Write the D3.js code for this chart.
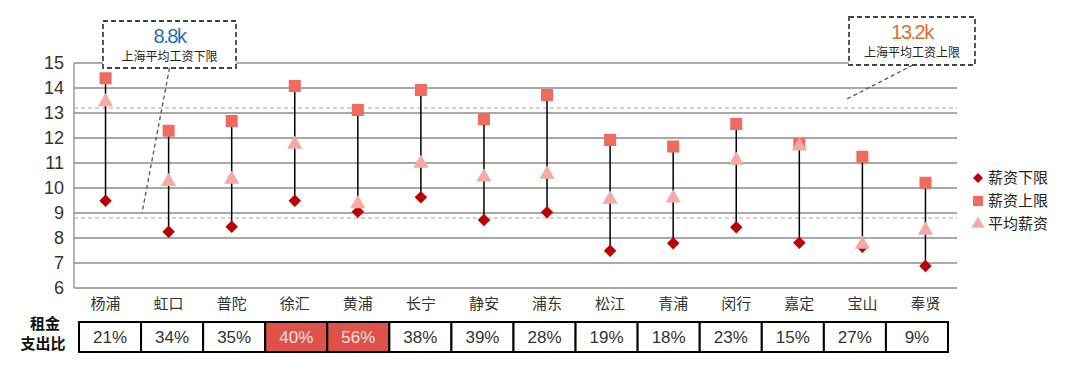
<!DOCTYPE html>
<html>
<head>
<meta charset="utf-8">
<script src="https://cdn.jsdelivr.net/npm/d3@7"></script>
<style>
  body { margin: 0; background: #fff; }
  text { font-family: "Noto Sans CJK SC", "Liberation Sans", sans-serif; }
</style>
</head>
<body>
<div id="chart"></div>
<script>
// data (unit: k RMB)
let districts = ["杨浦", "虹口", "普陀", "徐汇", "黄浦", "长宁", "静安", "浦东", "松江", "青浦", "闵行", "嘉定", "宝山", "奉贤"];
let salary_low = [9.49, 8.25, 8.45, 9.49, 9.05, 9.63, 8.72, 9.03, 7.49, 7.79, 8.43, 7.81, 7.65, 6.88];
let salary_high = [14.39, 12.29, 12.68, 14.08, 13.12, 13.92, 12.76, 13.72, 11.92, 11.66, 12.56, 11.76, 11.25, 10.21];
let salary_avg = [13.49, 10.3, 10.39, 11.79, 9.41, 11.03, 10.48, 10.59, 9.59, 9.64, 11.15, 11.72, 7.79, 8.35];
let rent_ratio = [21, 34, 35, 40, 56, 38, 39, 28, 19, 18, 23, 15, 27, 9];
let highlight_ratio = [40, 56];
let y_ticks = [6, 7, 8, 9, 10, 11, 12, 13, 14, 15];
let ref_low = 8.8, ref_high = 13.2;
let legend_names = ["薪资下限", "薪资上限", "平均薪资"];

let width = 1072, height = 376;
let plot = {left: 74, right: 957, top: 63, bottom: 288};

let svg = d3.select("#chart").append("svg")
    .attr("width", width)
    .attr("height", height);

let x = d3.scaleBand()
    .domain(districts)
    .range([plot.left, plot.right]);

let y = d3.scaleLinear()
    .domain([6, 15])
    .range([plot.bottom, plot.top]);

// gridlines
svg.append("g").selectAll("line")
    .data(y_ticks)
    .join("line")
    .attr("x1", plot.left).attr("x2", plot.right)
    .attr("y1", d => y(d)).attr("y2", d => y(d))
    .attr("stroke", "#8c8c8c")
    .attr("stroke-width", 1.3);

svg.append("line")
    .attr("x1", plot.left).attr("x2", plot.left)
    .attr("y1", y(15)).attr("y2", y(6))
    .attr("stroke", "#8c8c8c")
    .attr("stroke-width", 1.3);

// reference lines (dashed)
svg.append("g").selectAll("line")
    .data([ref_low, ref_high])
    .join("line")
    .attr("x1", plot.left).attr("x2", plot.right)
    .attr("y1", d => y(d)).attr("y2", d => y(d))
    .attr("stroke", "#a6a6a6")
    .attr("stroke-width", 1)
    .attr("stroke-dasharray", "4,3");

// y axis labels
let yAxis = svg.append("g")
    .attr("transform", "translate(" + plot.left + ",0)")
    .call(d3.axisLeft(y).tickValues(y_ticks).tickSize(0).tickPadding(10));
yAxis.select(".domain").remove();
yAxis.selectAll("text")
    .attr("font-size", 18)
    .attr("fill", "#333")
    .style("font-family", "'Liberation Sans', sans-serif");

// category labels
let xAxis = svg.append("g")
    .attr("transform", "translate(0," + plot.bottom + ")")
    .call(d3.axisBottom(x).tickSize(0).tickPadding(10));
xAxis.select(".domain").remove();
xAxis.selectAll("text")
    .attr("font-size", 15)
    .attr("fill", "#333");

let rows = districts.map((d, i) => ({name: d, low: salary_low[i], high: salary_high[i], avg: salary_avg[i]}));
let cx = d => x(d.name) + x.bandwidth() / 2;

// vertical range lines
svg.append("g").selectAll("line")
    .data(rows)
    .join("line")
    .attr("x1", cx).attr("x2", cx)
    .attr("y1", d => y(d.high)).attr("y2", d => y(d.low))
    .attr("stroke", "#000")
    .attr("stroke-width", 1.5);

let diamond = d3.symbol().type(d3.symbolSquare).size(78);
let square = d3.symbol().type(d3.symbolSquare).size(144);
let triangle = d3.symbol().type(d3.symbolTriangle).size(100);

let c_low = "#c00000", c_high = "#ee6b5e", c_avg = "#f5aaa4";

svg.append("g").selectAll("path")
    .data(rows)
    .join("path")
    .attr("d", diamond)
    .attr("fill", c_low)
    .attr("transform", d => "translate(" + cx(d) + "," + y(d.low) + ") rotate(45)");

svg.append("g").selectAll("path")
    .data(rows)
    .join("path")
    .attr("d", square)
    .attr("fill", c_high)
    .attr("transform", d => "translate(" + cx(d) + "," + y(d.high) + ")");

svg.append("g").selectAll("path")
    .data(rows)
    .join("path")
    .attr("d", triangle)
    .attr("fill", c_avg)
    .attr("transform", d => "translate(" + cx(d) + "," + (y(d.avg) + 1) + ")");

// legend
let legend = svg.append("g").attr("transform", "translate(978,178)");
let legend_syms = [
    {sym: d3.symbol().type(d3.symbolSquare).size(50), fill: c_low, rot: 45},
    {sym: d3.symbol().type(d3.symbolSquare).size(100), fill: c_high, rot: 0},
    {sym: d3.symbol().type(d3.symbolTriangle).size(75), fill: c_avg, rot: 0}
];
legend.selectAll("path")
    .data(legend_syms)
    .join("path")
    .attr("d", d => d.sym())
    .attr("fill", d => d.fill)
    .attr("transform", (d, i) => "translate(0," + (i * 23) + ") rotate(" + d.rot + ")");
legend.selectAll("text")
    .data(legend_names)
    .join("text")
    .attr("x", 10)
    .attr("y", (d, i) => i * 23)
    .attr("dy", "0.35em")
    .attr("font-size", 15)
    .attr("fill", "#222")
    .text(d => d);

// rent ratio table
let tx = d3.scaleBand()
    .domain(districts)
    .range([79, 948]);
let table_top = 322, table_h = 30;

let cells = svg.append("g").selectAll("g")
    .data(districts.map((d, i) => ({name: d, ratio: rent_ratio[i]})))
    .join("g")
    .attr("transform", d => "translate(" + tx(d.name) + "," + table_top + ")");
cells.append("rect")
    .attr("width", tx.bandwidth())
    .attr("height", table_h)
    .attr("fill", d => highlight_ratio.includes(d.ratio) ? "#de5249" : "#fff")
    .attr("stroke", "#000")
    .attr("stroke-width", 2);
cells.append("text")
    .attr("x", tx.bandwidth() / 2)
    .attr("y", table_h / 2)
    .attr("dy", "0.36em")
    .attr("text-anchor", "middle")
    .attr("font-size", 17)
    .attr("fill", d => highlight_ratio.includes(d.ratio) ? "#fbe3e1" : "#333")
    .style("font-family", "'Liberation Sans', sans-serif")
    .text(d => d.ratio + "%");

svg.append("text")
    .attr("x", 45).attr("y", 329)
    .attr("text-anchor", "middle")
    .attr("font-size", 15).attr("font-weight", "bold")
    .attr("fill", "#111")
    .text("租金");
svg.append("text")
    .attr("x", 43).attr("y", 349)
    .attr("text-anchor", "middle")
    .attr("font-size", 15).attr("font-weight", "bold")
    .attr("fill", "#111")
    .text("支出比");

// annotation boxes
function callout(bx, by, bw, bh, value, label, color, lx, ly) {
    svg.append("line")
        .attr("x1", bx + bw / 2 + (lx > bx ? 0 : 1)).attr("y1", by + bh)
        .attr("x2", lx).attr("y2", ly)
        .attr("stroke", "#555")
        .attr("stroke-width", 1.3)
        .attr("stroke-dasharray", "4,3");
    svg.append("rect")
        .attr("x", bx).attr("y", by)
        .attr("width", bw).attr("height", bh)
        .attr("fill", "#fff")
        .attr("stroke", "#444")
        .attr("stroke-width", 1.8)
        .attr("stroke-dasharray", "5,3");
    svg.append("text")
        .attr("x", bx + bw / 2).attr("y", by + 22)
        .attr("text-anchor", "middle")
        .attr("font-size", 20)
        .attr("letter-spacing", "-1.5px")
        .attr("fill", color)
        .style("font-family", "'Liberation Sans', sans-serif")
        .text(value);
    svg.append("text")
        .attr("x", bx + bw / 2).attr("y", by + 40)
        .attr("text-anchor", "middle")
        .attr("font-size", 12)
        .attr("fill", "#222")
        .text(label);
}
callout(103, 21, 133, 47, "8.8k", "上海平均工资下限", "#1f70b8", 142, y(9));
callout(849, 17, 126, 48, "13.2k", "上海平均工资上限", "#ea6a2e", 845, 100);
</script>
</body>
</html>
